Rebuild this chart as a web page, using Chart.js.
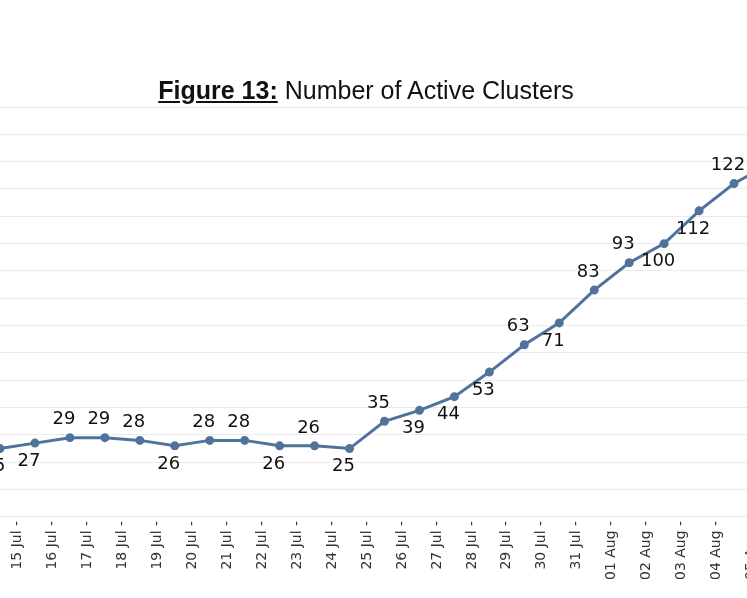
<!DOCTYPE html>
<html><head><meta charset="utf-8">
<script src="https://cdn.jsdelivr.net/npm/chart.js@4"></script>
<style>
html,body{margin:0;padding:0;background:#fff;overflow:hidden;width:747px;height:598px;}
#title{position:absolute;top:76px;left:0;width:732px;text-align:center;font-family:"Liberation Sans",Arial,sans-serif;font-size:25px;color:#111;z-index:2;}
#title b{text-decoration:underline;}
#wrap{position:absolute;left:-20px;top:0;width:820px;height:598px;}
</style></head><body>
<div id="title"><b>Figure 13:</b> Number of Active Clusters</div>
<div id="wrap"><canvas id="c"></canvas></div>
<script>
const dates = ["14 Jul","15 Jul","16 Jul","17 Jul","18 Jul","19 Jul","20 Jul","21 Jul","22 Jul","23 Jul","24 Jul","25 Jul","26 Jul","27 Jul","28 Jul","29 Jul","30 Jul","31 Jul","01 Aug","02 Aug","03 Aug","04 Aug","05 Aug"];
const clusters = [25,27,29,29,28,26,28,28,26,26,25,35,39,44,53,63,71,83,93,100,112,122,129];
const showLabel = [true,true,true,true,true,true,true,true,true,true,true,true,true,true,true,true,true,true,true,true,true,true,false];
const placement = ["b","b","a","a","a","b","a","a","b","a","b","a","b","b","b","a","b","a","a","b","b","a","a"];

const labelPlugin = {
  id:'vals',
  afterDatasetsDraw(chart){
    const ctx = chart.ctx, meta = chart.getDatasetMeta(0);
    ctx.save();
    ctx.font = '18px "DejaVu Sans", Verdana, sans-serif';
    ctx.fillStyle = '#111';
    ctx.textAlign = 'center';
    meta.data.forEach((p,i)=>{
      if(!showLabel[i]) return;
      const above = placement[i]==='a';
      ctx.textBaseline = above ? 'bottom' : 'top';
      ctx.fillText(String(clusters[i]), p.x - 6, above ? p.y - 9 : p.y + 9);
    });
    ctx.restore();
  }
};

new Chart(document.getElementById('c'), {
  type:'line',
  data:{labels:dates, datasets:[{data:clusters, borderColor:'#50739c', backgroundColor:'#50739c', borderWidth:3, pointRadius:3, pointHoverRadius:3, tension:0}]},
  options:{
    responsive:true, maintainAspectRatio:false, animation:false,
    layout:{padding:{left:20, right:31, top:107, bottom:14}},
    plugins:{legend:{display:false}, tooltip:{enabled:false}},
    scales:{
      x:{offset:false, grid:{display:false, drawTicks:false}, border:{display:false},
         ticks:{autoSkip:false, maxRotation:90, minRotation:90, labelOffset:-17.5, padding:4, color:'#333',
                font:{family:'"DejaVu Sans", Tahoma, sans-serif', size:14},
                callback:(v,i)=>dates[i]+' -'}},
      y:{min:0, max:150, display:true, afterFit(s){s.width=0;},
         ticks:{display:false, stepSize:10}, border:{display:false},
         grid:{color:'#ebebeb', drawTicks:false}}
    }
  },
  plugins:[labelPlugin]
});
</script>
</body></html>
